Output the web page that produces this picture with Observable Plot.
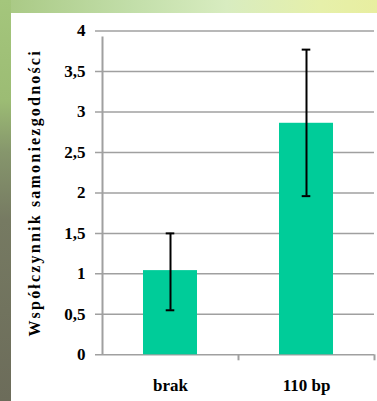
<!DOCTYPE html>
<html>
<head>
<meta charset="utf-8">
<script src="https://cdn.jsdelivr.net/npm/d3@7"></script>
<script src="https://cdn.jsdelivr.net/npm/@observablehq/plot@0.6"></script>
<style>
  html, body { margin: 0; padding: 0; }
  body {
    width: 377px; height: 401px; position: relative; overflow: hidden;
    background: linear-gradient(to right, #a8c883 0%, #c2dea9 35%, #d8ecc0 60%, #e6f0aa 85%, #e8eea0 100%);
  }
  #strip {
    position: absolute; left: 0; top: 0; width: 11px; height: 401px;
    background: linear-gradient(to bottom, #a4c67c 0%, #9cbc74 25%, #86966c 38%, #767a62 55%, #6c6c5a 100%);
  }
  #panel {
    position: absolute; left: 11px; top: 13px; width: 366px; height: 388px; background: #ffffff;
  }
  #panel svg text { font-family: "Liberation Serif", "DejaVu Serif", "Tinos", "Noto Serif", serif !important; font-weight: bold; }
</style>
</head>
<body>
<div id="strip"></div>
<div id="panel"></div>
<script>
const categories = ["brak", "110 bp"];
const values = [1.04, 2.86];
const errLow = [0.55, 1.96];
const errHigh = [1.50, 3.77];
const yTicks = [0, 0.5, 1, 1.5, 2, 2.5, 3, 3.5, 4];
const yLabel = "Współczynnik samoniezgodności";

const data = categories.map((c, i) => ({cat: c, value: values[i], lo: errLow[i], hi: errHigh[i]}));

const W = 366, H = 388, ML = 91, MR = 3, MT = 17.5, MB = 46.7;
const step = (W - ML - MR) / categories.length;
const font = "'Liberation Serif', 'DejaVu Serif', serif";
const grid = "#a0a0a0";

const chart = Plot.plot({
  width: W, height: H,
  marginLeft: ML, marginRight: MR, marginTop: MT, marginBottom: MB,
  style: {fontSize: "17px", fontWeight: "bold", color: "#000", background: "transparent", overflow: "visible"},
  x: {domain: categories, paddingInner: 0.6, paddingOuter: 0.3},
  y: {domain: [0, 4]},
  marks: [
    Plot.ruleY(yTicks, {stroke: grid, strokeWidth: 1.5, insetLeft: -7}),
    Plot.ruleX([categories[0]], {dx: -step / 2, y1: 0, y2: 4, insetBottom: -6, stroke: grid, strokeWidth: 2}),
    Plot.ruleX(categories.slice(1), {dx: -step / 2, y1: 0, y2: 0, insetBottom: -6, stroke: grid, strokeWidth: 2}),
    Plot.ruleX([categories[categories.length - 1]], {dx: step / 2, y1: 0, y2: 0, insetBottom: -6, stroke: grid, strokeWidth: 2}),
    Plot.barY(data, {x: "cat", y: "value", fill: "#00cc99"}),
    Plot.ruleX(data, {x: "cat", y1: "lo", y2: "hi", stroke: "#000", strokeWidth: 2}),
    Plot.tickY(data, {x: "cat", y: "lo", stroke: "#000", strokeWidth: 2, insetLeft: 22.7, insetRight: 22.7}),
    Plot.tickY(data, {x: "cat", y: "hi", stroke: "#000", strokeWidth: 2, insetLeft: 22.7, insetRight: 22.7}),
    Plot.axisY(yTicks, {tickSize: 0, tickPadding: 17, tickFormat: d => String(d).replace(".", ","), label: null, fontSize: 17, fontFamily: font, fontWeight: "bold", fill: "#000"}),
    Plot.axisX({tickSize: 0, tickPadding: 24, label: null, fontSize: 17, fontFamily: font, fontWeight: "bold", fill: "#000"}),
    Plot.text([yLabel], {frameAnchor: "left", textAnchor: "middle", lineAnchor: "middle", rotate: -90, dx: -68, fontSize: 16, fontFamily: font, fontWeight: "bold", fill: "#000"})
  ]
});
document.getElementById("panel").appendChild(chart);
for (const t of chart.querySelectorAll("text")) {
  if (t.textContent === yLabel) {
    t.setAttribute("letter-spacing", "2.2");
  }
}
</script>
</body>
</html>
